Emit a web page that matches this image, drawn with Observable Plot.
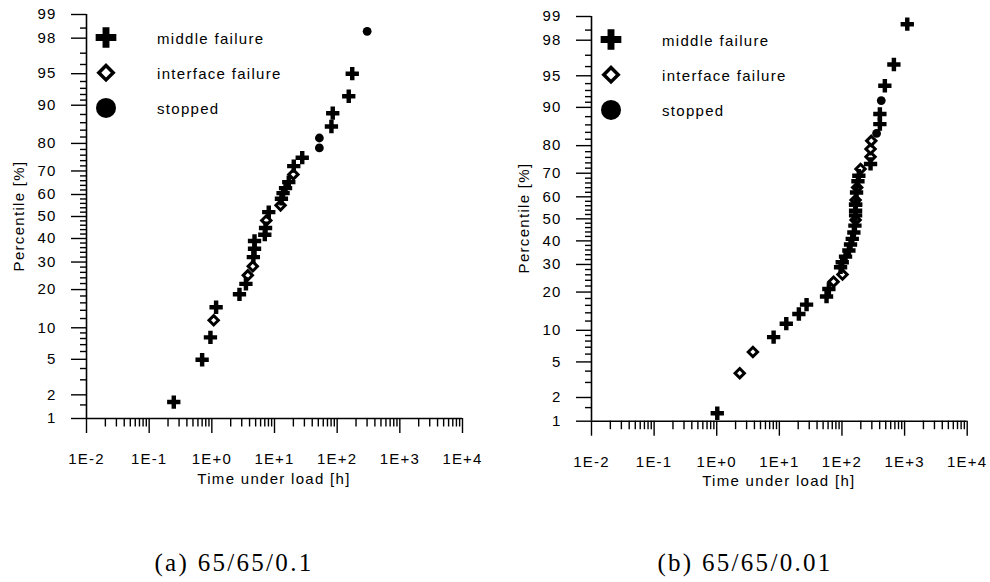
<!DOCTYPE html>
<html><head><meta charset="utf-8">
<script src="https://cdn.jsdelivr.net/npm/d3@7"></script>
<script src="https://cdn.jsdelivr.net/npm/@observablehq/plot@0.6"></script>
<style>
html,body{margin:0;padding:0;background:#fff;}
#root{position:relative;width:990px;height:582px;overflow:hidden;font-family:"Liberation Sans",Arial,sans-serif;color:#000;}
.panel{position:absolute;top:0;}
.t{position:absolute;font-size:15px;line-height:15px;letter-spacing:1.3px;white-space:nowrap;}
.cap{position:absolute;font-family:"Liberation Serif",serif;font-size:25px;line-height:25px;letter-spacing:2.3px;white-space:nowrap;}
</style></head><body><div id="root"></div>
<script>
// ---------- data ----------
const seriesNames = ["middle failure", "interface failure", "stopped"];
const xTitle = "Time under load [h]";
const yTitle = "Percentile [%]";
const captions = ["(a) 65/65/0.1", "(b) 65/65/0.01"];

const timeTicks = [1e-2, 1e-1, 1e0, 1e1, 1e2, 1e3, 1e4];
const timeTickLabels = ["1E-2", "1E-1", "1E+0", "1E+1", "1E+2", "1E+3", "1E+4"];
const timeMinorMultipliers = [2, 3, 4, 5, 6, 7, 8, 9];
const pctMajor = [1, 2, 5, 10, 20, 30, 40, 50, 60, 70, 80, 90, 95, 98, 99];
const pctMinor = [1.5, 3, 4, 6, 7, 8, 9, 12, 14, 16, 18, 22, 24, 26, 28, 32, 34, 36, 38,
  42, 44, 46, 48, 52, 54, 56, 58, 62, 64, 66, 68, 72, 74, 76, 78, 82, 84, 86, 88,
  91, 92, 93, 94, 96, 97, 98.5];

// panel (a) 65/65/0.1
const aMiddleTime = [0.247, 0.70, 0.95, 1.17, 2.76, 3.5, 4.6, 4.8, 4.8, 7.0, 7.2, 8.1, 12.9, 13.7, 15, 16.9, 20.3, 27.7, 81, 85, 153, 174];
const aMiddlePct  = [1.63, 4.95, 8.2, 14.8, 18.5, 21.9, 32.0, 35.5, 38.9, 41.7, 44.7, 52.0, 58.1, 60.6, 62.8, 65.4, 71.9, 75.1, 85.0, 88.3, 91.7, 95.0];
const aInterfaceTime = [1.07, 3.75, 4.5, 7.4, 12.5, 20];
const aInterfacePct  = [11.6, 24.9, 28.3, 48.2, 55.1, 68.6];
const aStoppedTime = [52, 52, 301];
const aStoppedPct  = [78.5, 81.7, 98.35];

// panel (b) 65/65/0.01
const bMiddleTime = [1.02, 8.1, 12.9, 20.5, 27.2, 56.7, 61.8, 95, 101, 114, 129, 137, 146, 155, 161, 165, 165, 165, 165, 171, 180, 186, 286, 403, 403, 484, 675, 1104];
const bMiddlePct  = [1.27, 8.7, 11.4, 13.7, 16.2, 18.6, 21.0, 28.9, 30.9, 33.2, 35.8, 38.4, 40.9, 43.8, 46.9, 51.6, 53.7, 56.5, 56.5, 61.9, 66.7, 69.0, 73.6, 86.2, 88.6, 93.7, 96.2, 98.74];
const bInterfaceTime = [2.33, 3.78, 73.4, 102, 165, 165, 175, 198, 286, 286, 294];
const bInterfacePct  = [3.8, 6.3, 23.5, 26.1, 49.5, 58.6, 64.1, 71.7, 76.2, 78.9, 81.5];
const bStoppedTime = [357, 424];
const bStoppedPct  = [83.7, 91.3];

// ---------- normal probability (probit) transform for the y scale ----------
function probit(p) {
  const a = [-3.969683028665376e+01, 2.209460984245205e+02, -2.759285104469687e+02, 1.383577518672690e+02, -3.066479806614716e+01, 2.506628277459239e+00];
  const b = [-5.447609879822406e+01, 1.615858368580409e+02, -1.556989798598866e+02, 6.680131188771972e+01, -1.328068155288572e+01];
  const c = [-7.784894002430293e-03, -3.223964580411365e-01, -2.400758277161838e+00, -2.549732539343734e+00, 4.374664141464968e+00, 2.938163982698783e+00];
  const d = [7.784695709041462e-03, 3.224671290700398e-01, 2.445134137142996e+00, 3.754408661907416e+00];
  const pl = 0.02425, ph = 1 - pl;
  let q, r;
  if (p < pl) { q = Math.sqrt(-2 * Math.log(p)); return (((((c[0]*q+c[1])*q+c[2])*q+c[3])*q+c[4])*q+c[5]) / ((((d[0]*q+d[1])*q+d[2])*q+d[3])*q+1); }
  if (p <= ph) { q = p - 0.5; r = q*q; return (((((a[0]*r+a[1])*r+a[2])*r+a[3])*r+a[4])*r+a[5])*q / (((((b[0]*r+b[1])*r+b[2])*r+b[3])*r+b[4])*r+1); }
  q = Math.sqrt(-2 * Math.log(1 - p)); return -(((((c[0]*q+c[1])*q+c[2])*q+c[3])*q+c[4])*q+c[5]) / ((((d[0]*q+d[1])*q+d[2])*q+d[3])*q+1);
}
const z = pct => probit(pct / 100);

const rows = (ts, ps) => ts.map((t, i) => ({t, p: ps[i]}));
const timeMinor = timeTicks.slice(0, -1).flatMap(d => timeMinorMultipliers.map(m => d * m));
const yMajorLabel = new Map(pctMajor.map(p => [z(p), String(p)]));
const xMajorLabel = new Map(timeTicks.map((t, i) => [t, timeTickLabels[i]]));

const W = 495, H = 490;

function panel(middle, iface, stopped, m) {
  return Plot.plot({
    width: W, height: H,
    marginLeft: m.left, marginRight: m.right, marginTop: m.top, marginBottom: m.bottom,
    style: {fontFamily: "'Liberation Sans', Arial, sans-serif", fontSize: "15px", letterSpacing: "1.2px", color: "#000", background: "transparent", overflow: "visible"},
    x: {type: "log", domain: [timeTicks[0], timeTicks[timeTicks.length - 1]], label: null},
    y: {type: "linear", domain: [z(pctMajor[0]), z(pctMajor[pctMajor.length - 1])], label: null},
    marks: [
      Plot.axisY({ticks: pctMinor.map(z), tickSize: 6, strokeWidth: 1.4, tickFormat: () => "", label: null}),
      Plot.axisY({ticks: pctMajor.map(z), tickSize: 15, tickPadding: 15, strokeWidth: 1.4, tickFormat: v => yMajorLabel.get(v), label: null}),
      Plot.axisX({ticks: timeMinor, tickSize: 8.5, strokeWidth: 1.4, tickFormat: () => "", label: null}),
      Plot.axisX({ticks: timeTicks, tickSize: 15, tickPadding: 20, strokeWidth: 1.4, tickFormat: v => xMajorLabel.get(v), label: null}),
      Plot.ruleX([timeTicks[0]], {strokeWidth: 1.6}),
      Plot.ruleY([z(pctMajor[0])], {strokeWidth: 1.6}),
      Plot.dot(stopped, {x: "t", y: d => z(d.p), symbol: "circle", r: 4.4, fill: "#000", stroke: "none"}),
      Plot.dot(iface, {x: "t", y: d => z(d.p), symbol: "diamond2", r: 4.2, fill: "#fff", stroke: "#000", strokeWidth: 3}),
      Plot.dot(middle, {x: "t", y: d => z(d.p), symbol: d3.symbolCross, r: 5.6, fill: "#000", stroke: "none"})
    ]
  });
}

const root = document.getElementById("root");
const panels = [
  {dx: 0, m: {left: 86, right: 33, top: 14, bottom: 72},
   data: [rows(aMiddleTime, aMiddlePct), rows(aInterfaceTime, aInterfacePct), rows(aStoppedTime, aStoppedPct)]},
  {dx: 495, m: {left: 96, right: 23.3, top: 16, bottom: 69.3},
   data: [rows(bMiddleTime, bMiddlePct), rows(bInterfaceTime, bInterfacePct), rows(bStoppedTime, bStoppedPct)]}
];

const legendSymbols = [
  {type: d3.symbolCross, size: 238, fill: "#000", stroke: "none", sw: 0},
  {type: d3.symbolDiamond2, size: 132, fill: "#fff", stroke: "#000", sw: 3.5},
  {type: d3.symbolCircle, size: Math.PI * 100, fill: "#000", stroke: "none", sw: 0}
];

panels.forEach((P, k) => {
  const div = document.createElement("div");
  div.className = "panel";
  div.style.left = P.dx + "px";
  div.appendChild(panel(P.data[0], P.data[1], P.data[2], P.m));
  root.appendChild(div);

  const axisX0 = P.dx + P.m.left;
  const axisX1 = P.dx + W - P.m.right;
  const top = P.m.top, bottom = H - P.m.bottom;

  // legend (overlay)
  const svg = d3.select(root).append("svg")
    .attr("width", 30).attr("height", 110)
    .style("position", "absolute").style("left", (axisX0 + 5) + "px").style("top", (top) + "px");
  legendSymbols.forEach((s, i) => {
    svg.append("path")
      .attr("d", d3.symbol().type(s.type).size(s.size)())
      .attr("transform", `translate(15,${23.5 + i * 35.2})`)
      .attr("fill", s.fill).attr("stroke", s.stroke).attr("stroke-width", s.sw);
    const t = document.createElement("div");
    t.className = "t";
    t.textContent = seriesNames[i];
    t.style.left = (axisX0 + 71) + "px";
    t.style.top = (top + 16.6 + i * 35.2) + "px";
    root.appendChild(t);
  });

  // x title
  const xt = document.createElement("div");
  xt.className = "t";
  xt.textContent = xTitle;
  xt.style.left = ((axisX0 + axisX1) / 2) + "px";
  xt.style.top = (bottom + 52.5) + "px";
  xt.style.transform = "translateX(-50%)";
  root.appendChild(xt);

  // y title
  const yt = document.createElement("div");
  yt.className = "t";
  yt.textContent = yTitle;
  yt.style.left = (axisX0 - 68) + "px";
  yt.style.top = ((top + bottom) / 2) + "px";
  yt.style.transform = "translate(-50%,-50%) rotate(-90deg)";
  root.appendChild(yt);

  // caption
  const cp = document.createElement("div");
  cp.className = "cap";
  cp.textContent = captions[k];
  cp.style.left = (k === 0 ? 234 : 745) + "px";
  cp.style.top = "550px";
  cp.style.transform = "translateX(-50%)";
  root.appendChild(cp);
});
</script>
</body></html>
